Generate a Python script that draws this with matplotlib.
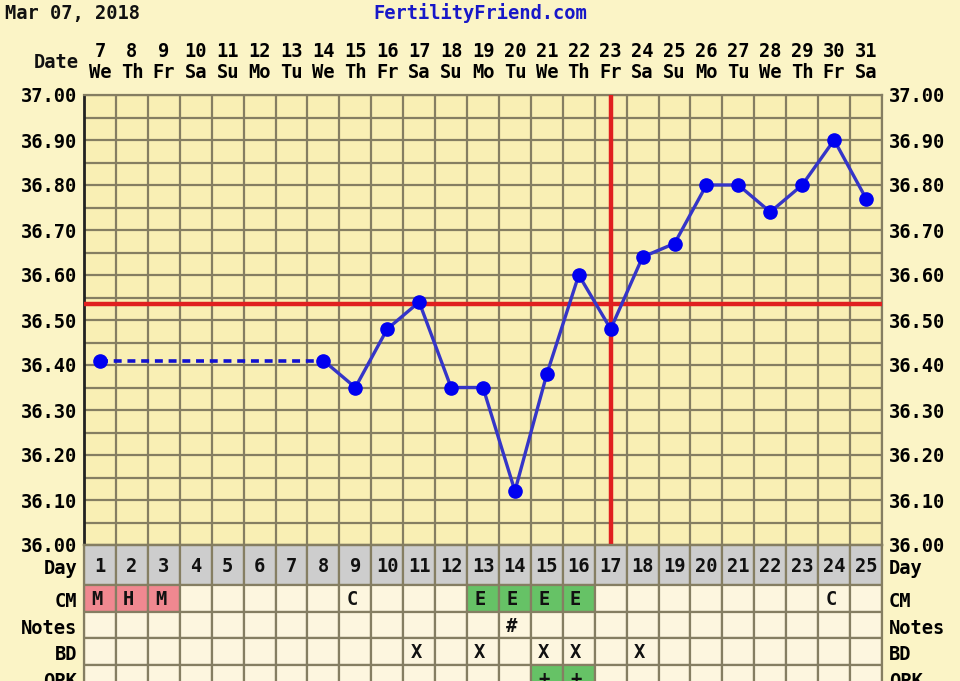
import numpy as np
import matplotlib
matplotlib.use("Agg")
import matplotlib.pyplot as plt
from matplotlib.patches import Rectangle

# chart data
cycle_days = list(range(1, 26))
dates = list(range(7, 32))
weekdays = ["We", "Th", "Fr", "Sa", "Su", "Mo", "Tu"] * 4
weekdays = weekdays[:25]
temps = [36.41, np.nan, np.nan, np.nan, np.nan, np.nan, np.nan, 36.41, 36.35, 36.48,
         36.54, 36.35, 36.35, 36.12, 36.38, 36.60, 36.48, 36.64, 36.67, 36.80,
         36.80, 36.74, 36.80, 36.90, 36.77]
coverline = 36.535
ovulation_day = 17
cm = ["M", "H", "M", "", "", "", "", "", "C", "", "", "", "E", "E", "E", "E",
      "", "", "", "", "", "", "", "C", ""]
notes = [""] * 13 + ["#"] + [""] * 11
bd = ["", "", "", "", "", "", "", "", "", "", "X", "", "X", "", "X", "X",
      "", "X", "", "", "", "", "", "", ""]
opk = [""] * 14 + ["+", "+"] + [""] * 9
ytick_vals = [36.0, 36.1, 36.2, 36.3, 36.4, 36.5, 36.6, 36.7, 36.8, 36.9, 37.0]

W, H = 960, 681
BG = "#FBF4C6"
CHART = "#F9EFB4"
CREAM = "#FDF6DF"
GRAY = "#CDCDCD"
GRID = "#857E62"
PINK = "#F08890"
GREEN = "#66C266"
FONT = "DejaVu Sans Mono"
FS = 13.5

fig = plt.figure(figsize=(W / 100, H / 100), dpi=100, facecolor=BG)


def px(x0, y0, x1, y1):
    # pixel box (top-left origin) -> figure fraction rect
    return [x0 / W, (H - y1) / H, (x1 - x0) / W, (y1 - y0) / H]


# temperature chart
ax = fig.add_axes(px(84, 95, 882, 545))
ax.set_facecolor(CHART)
ax.set_xlim(0.5, 25.5)
ax.set_ylim(36.0, 37.0)
for k in range(26):
    ax.axvline(k + 0.5, color=GRID, lw=1.6, zorder=1)
for v in np.arange(36.0, 37.001, 0.05):
    ax.axhline(v, color=GRID, lw=1.6, zorder=1)
for s in ax.spines.values():
    s.set_color(GRID)
    s.set_linewidth(1.6)
ax.spines["left"].set_color("#222222")
ax.spines["left"].set_linewidth(2)

ax.set_yticks(ytick_vals)
ax.set_yticklabels([f"{v:.2f}" for v in ytick_vals], fontfamily=FONT,
                   fontweight="bold", fontsize=FS)
ax.tick_params(axis="y", length=0, pad=5, labelleft=True, labelright=True)
ax.set_xticks(cycle_days)
ax.set_xticklabels([f"{d}\n{w}" for d, w in zip(dates, weekdays)],
                   fontfamily=FONT, fontweight="bold", fontsize=FS,
                   linespacing=1.15)
ax.tick_params(axis="x", length=0, pad=9, labeltop=True, labelbottom=False)

# coverline and ovulation line
ax.axhline(coverline, color="#E02020", lw=3.2, zorder=3)
ax.axvline(ovulation_day, color="#E02020", lw=3.2, zorder=3)

t = np.array(temps)
d = np.array(cycle_days)
ax.plot([d[0], d[7]], [t[0], t[7]], color="#1010D0", lw=2.6,
        linestyle=(0, (2.2, 1.6)), zorder=4)
ax.plot(d[7:], t[7:], color="#3535C8", lw=2.4, zorder=4)
ok = ~np.isnan(t)
ax.plot(d[ok], t[ok], "o", color="#0000F0", ms=9.5, zorder=5)

# table below
tab = fig.add_axes(px(84, 545, 882, 692))
tab.set_xlim(0.5, 25.5)
row_edges = [0, 40, 67, 93, 120, 147]
tab.set_ylim(row_edges[-1], 0)
tab.set_facecolor(CREAM)
rows = [[str(c) for c in cycle_days], cm, notes, bd, opk]
row_names = ["Day", "CM", "Notes", "BD", "OPK"]
for r, vals in enumerate(rows):
    y0, y1 = row_edges[r], row_edges[r + 1]
    for i, txt in enumerate(vals):
        fc = CREAM
        if r == 0:
            fc = GRAY
        elif r == 1 and txt in ("M", "H"):
            fc = PINK
        elif r == 1 and txt == "E":
            fc = GREEN
        elif r == 4 and txt == "+":
            fc = GREEN
        tab.add_patch(Rectangle((i + 0.5, y0), 1, y1 - y0, facecolor=fc,
                                edgecolor=GRID, lw=1.6))
        if txt:
            xo = 0 if r == 0 else -0.1
            tab.text(i + 1 + xo, (y0 + y1) / 2 + 1, txt, ha="center", va="center",
                     fontfamily=FONT, fontweight="bold", fontsize=FS, color="#111111")
tab.set_yticks([(row_edges[k] + row_edges[k + 1]) / 2 + 1 for k in range(5)])
tab.set_yticklabels(row_names, fontfamily=FONT, fontweight="bold", fontsize=FS)
tab.tick_params(axis="y", length=0, pad=5, labelleft=True, labelright=True)
tab.set_xticks([])
for s in tab.spines.values():
    s.set_color(GRID)
    s.set_linewidth(1.6)

# header texts
fig.text(5 / W, 1 - 13 / H, "Mar 07, 2018", fontfamily=FONT, fontweight="bold",
         fontsize=FS, va="center", ha="left", color="#111111")
fig.text(480 / W, 1 - 13 / H, "FertilityFriend.com", fontfamily=FONT,
         fontweight="bold", fontsize=FS, va="center", ha="center", color="#1818C8")
fig.text(79 / W, 1 - 63 / H, "Date", fontfamily=FONT, fontweight="bold",
         fontsize=FS, va="center", ha="right", color="#111111")

fig.savefig("out.png", dpi=100, facecolor=BG)
